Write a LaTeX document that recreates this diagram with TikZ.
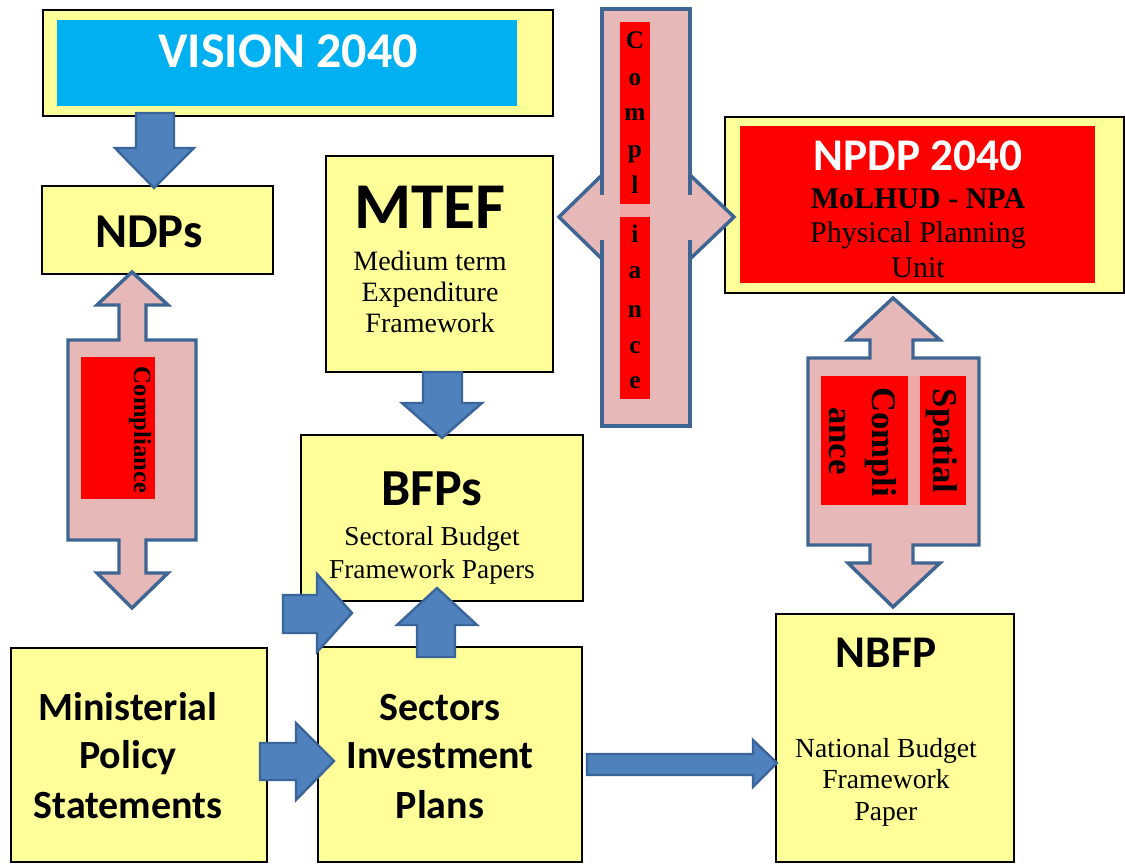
\documentclass[tikz,border=0pt]{standalone}
\usepackage{fontspec}
\setmainfont{Liberation Serif}
\newfontfamily\carlito{Carlito}
\usetikzlibrary{fit}

\definecolor{boxyellow}{HTML}{FFFF99}
\definecolor{skyband}{HTML}{00B0F0}
\definecolor{redband}{HTML}{FF0000}
\definecolor{pinkfill}{HTML}{E6B9B8}
\definecolor{pinkgap}{HTML}{EFA7A7}
\definecolor{pinkline}{HTML}{3F6593}
\definecolor{arrowfill}{HTML}{4F81BD}
\definecolor{arrowline}{HTML}{3A659A}

% font size in pt, tight leading
\newcommand\setfs[1]{\fontsize{#1}{#1}\selectfont}

\tikzset{
  ybox/.style={draw=black, line width=0.9pt, fill=boxyellow, inner sep=0pt},
  band/.style={inner sep=0pt},
  head/.style={font=\carlito\bfseries, inner sep=0pt, anchor=base},
  body/.style={font=\rmfamily, inner sep=0pt, anchor=base},
  bodybf/.style={font=\rmfamily\bfseries, inner sep=0pt, anchor=base},
  pinkarrow/.style={fill=pinkfill, draw=pinkline, line width=2.6pt, line join=miter},
  pinkedge/.style={draw=pinkline, line width=2.6pt, line join=miter},
  bluearrow/.style={fill=arrowfill, draw=arrowline, line width=1.8pt, line join=miter},
}

\begin{document}
\begin{tikzpicture}[x=0.75pt, y=-0.75pt]
\useasboundingbox (0,0) rectangle (1125,864);
\fill[white] (0,0) rectangle (1125,864);

% ---------- boxes ----------
\node[ybox, fit={(43,10)(553,116)}] (vision) {};
\node[band, fill=skyband, fit={(57,20)(517,106)}] (visionband) {};
\node[head, text=white, font=\carlito\bfseries\setfs{37.5}] (visiontxt) at (288,67) {VISION 2040};

\node[ybox, fit={(42,186)(273,274)}] (ndps) {};
\node[head, font=\carlito\bfseries\setfs{36.5}] (ndpstxt) at (149,247) {NDPs};

\node[ybox, fit={(326,156)(553,372)}] (mtef) {};
\node[head, font=\carlito\bfseries\setfs{49}] (mteftxt) at (430,228) {MTEF};
\node[body, font=\rmfamily\setfs{21}] (mtefa) at (430,270) {Medium term};
\node[body, font=\rmfamily\setfs{21}] (mtefb) at (430,301) {Expenditure};
\node[body, font=\rmfamily\setfs{21}] (mtefc) at (430,332) {Framework};

\node[ybox, fit={(725,117)(1124,293)}] (npdp) {};
\node[band, fill=redband, fit={(740,126)(1095,283)}] (npdpband) {};
\node[head, text=white, font=\carlito\bfseries\setfs{34}] (npdptxt) at (918,170) {NPDP 2040};
\node[bodybf, font=\rmfamily\bfseries\setfs{22.5}] (npdpa) at (918,208) {MoLHUD - NPA};
\node[body, font=\rmfamily\setfs{22.5}] (npdpb) at (918,242) {Physical Planning};
\node[body, font=\rmfamily\setfs{22.5}] (npdpc) at (918,277) {Unit};

\node[ybox, fit={(301,435)(583,601)}] (bfps) {};
\node[head, font=\carlito\bfseries\setfs{39}] (bfpstxt) at (432,505) {BFPs};
\node[body, font=\rmfamily\setfs{20.5}] (bfpsa) at (432,545) {Sectoral Budget};
\node[body, font=\rmfamily\setfs{20.5}] (bfpsb) at (432,578) {Framework Papers};

\node[ybox, fit={(11,648)(267,862)}] (mps) {};
\node[head, font=\carlito\bfseries\setfs{30}] (mpsa) at (128,720) {Ministerial};
\node[head, font=\carlito\bfseries\setfs{30}] (mpsb) at (128,768) {Policy};
\node[head, font=\carlito\bfseries\setfs{30}] (mpsc) at (128,818) {Statements};

\node[ybox, fit={(318,647)(582,862)}] (sip) {};
\node[head, font=\carlito\bfseries\setfs{30}] (sipa) at (440,720) {Sectors};
\node[head, font=\carlito\bfseries\setfs{30}] (sipb) at (440,768) {Investment};
\node[head, font=\carlito\bfseries\setfs{30}] (sipc) at (440,818) {Plans};

\node[ybox, fit={(776,614)(1014,862)}] (nbfp) {};
\node[head, font=\carlito\bfseries\setfs{34}] (nbfptxt) at (886,667) {NBFP};
\node[body, font=\rmfamily\setfs{20.7}] (nbfpa) at (886,757) {National Budget};
\node[body, font=\rmfamily\setfs{20.7}] (nbfpb) at (886,788) {Framework};
\node[body, font=\rmfamily\setfs{20.7}] (nbfpc) at (886,820) {Paper};

% ---------- blue block arrows ----------
% VISION 2040 -> NDPs
\draw[bluearrow] (136,113) -- (174,113) -- (174,148) -- (194,148) -- (154,188)
  -- (115,148) -- (136,148) -- cycle;
% MTEF -> BFPs
\draw[bluearrow] (423,372) -- (462,372) -- (462,403) -- (482,403) -- (442,438)
  -- (402,403) -- (423,403) -- cycle;
% Sectors -> BFPs (up)
\draw[bluearrow] (417,657) -- (455,657) -- (455,625) -- (477,625) -- (437,588)
  -- (397,625) -- (417,625) -- cycle;
% into BFPs from the left
\draw[bluearrow] (283,595) -- (317,595) -- (317,574) -- (352,613) -- (317,652)
  -- (317,633) -- (283,633) -- cycle;
% Ministerial -> Sectors
\draw[bluearrow] (260,743) -- (296,743) -- (296,723) -- (334,761) -- (296,800)
  -- (296,780) -- (260,780) -- cycle;
% Sectors -> NBFP
\draw[bluearrow] (587,754) -- (753,754) -- (753,740) -- (777,763) -- (753,787)
  -- (753,775) -- (587,775) -- cycle;

% ---------- compliance double arrow, NDPs <-> ministerial level ----------
\draw[pinkarrow] (132,272) -- (168,305) -- (146,305) -- (146,340) -- (196,340)
  -- (196,540) -- (146,540) -- (146,573) -- (168,573) -- (132,608) -- (97,573)
  -- (119,573) -- (119,540) -- (68,540) -- (68,340) -- (119,340) -- (119,305)
  -- (97,305) -- cycle;
\node[band, fill=redband, fit={(81,357)(155,499)}] (lcband) {};
\node[bodybf, anchor=center, rotate=-90, font=\rmfamily\bfseries\setfs{18.5}]
  (lctxt) at (140,430) {Compliance};

% ---------- compliance cross arrow, MTEF <-> NPDP ----------
\fill[pinkfill] (602,9) rectangle (690,426);
\fill[pinkfill] (602,175) -- (559,217) -- (602,259) -- cycle;
\fill[pinkfill] (690,175) -- (734,217) -- (690,259) -- cycle;
\draw[pinkedge] (602,195) -- (602,9) -- (690,9) -- (690,195);
\draw[pinkedge] (690,240) -- (690,426) -- (602,426) -- (602,240);
\draw[pinkedge] (602,175) -- (559,217) -- (602,259);
\draw[pinkedge] (690,175) -- (734,217) -- (690,259);
\node[band, fill=redband, fit={(620,22)(650,204)}] (mcbanda) {};
\node[band, fill=pinkgap, fit={(620,204)(650,217)}] (mcgap) {};
\node[band, fill=redband, fit={(620,217)(650,399)}] (mcbandb) {};
\foreach \ch/\yy [count=\k] in {C/48, o/85, m/120, p/157, l/193,
                                i/242, a/278, n/317, c/353, e/388}
  \node[bodybf, font=\rmfamily\bfseries\setfs{19}] (mcl\k) at (635,\yy) {\ch};

% ---------- spatial compliance double arrow, NPDP <-> NBFP ----------
\draw[pinkarrow] (893,298) -- (940,340) -- (913,340) -- (913,358) -- (979,358)
  -- (979,545) -- (913,545) -- (913,563) -- (940,563) -- (893,607) -- (848,563)
  -- (870,563) -- (870,545) -- (808,545) -- (808,358) -- (870,358) -- (870,340)
  -- (848,340) -- cycle;
\node[band, fill=redband, fit={(821,376)(908,505)}] (rcbanda) {};
\node[band, fill=pinkgap, fit={(908,376)(920,505)}] (rcgap) {};
\node[band, fill=redband, fit={(920,376)(966,505)}] (rcbandb) {};
\node[bodybf, anchor=center, rotate=-90, font=\rmfamily\bfseries\setfs{26}]
  (rctxta) at (942,441) {Spatial};
\node[bodybf, anchor=center, rotate=-90, font=\rmfamily\bfseries\setfs{26}]
  (rctxtb) at (881,442) {Compli};
\node[bodybf, anchor=center, rotate=-90, font=\rmfamily\bfseries\setfs{26}]
  (rctxtc) at (837,441) {ance};
\end{tikzpicture}
\end{document}
